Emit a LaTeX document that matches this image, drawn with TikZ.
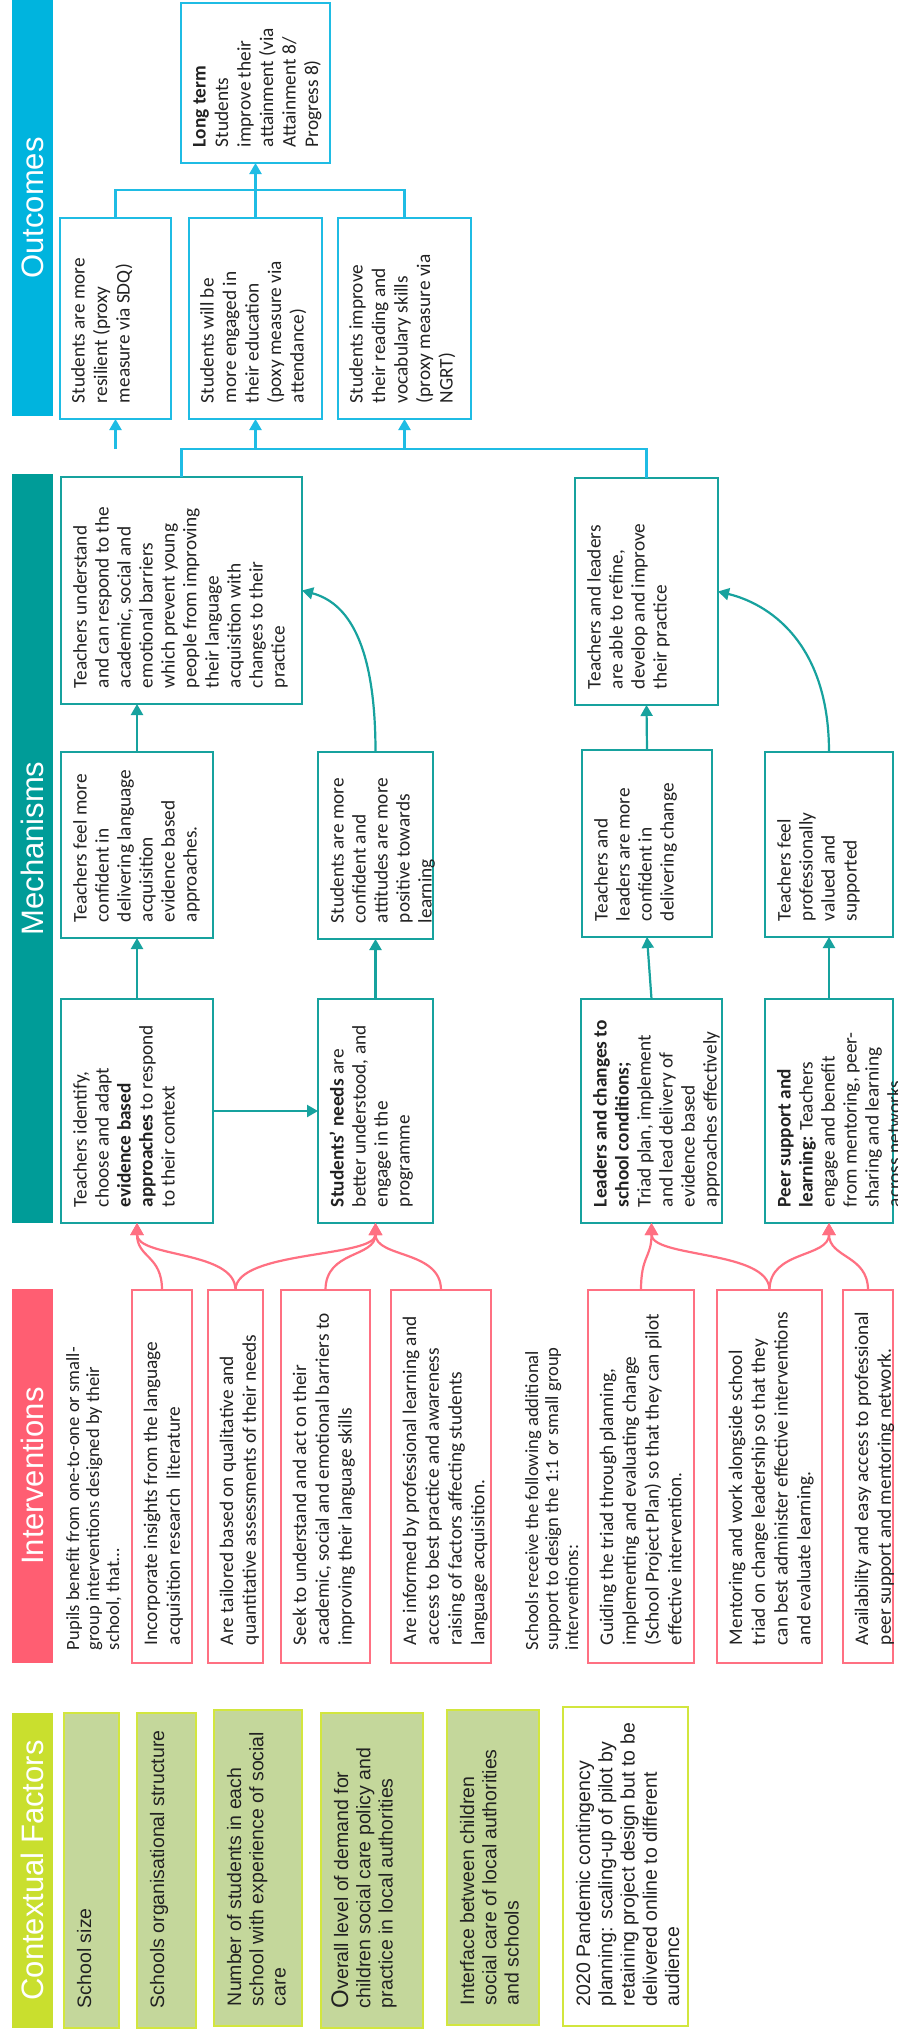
\documentclass[tikz,border=0pt]{standalone}
\usepackage{fontspec}
\setmainfont{Carlito}
\newfontfamily\arialf{Liberation Sans}
\usetikzlibrary{arrows.meta}
\definecolor{cyanC}{HTML}{00B4DE}
\definecolor{cyanB}{HTML}{1FBCE4}
\definecolor{tealC}{HTML}{009C98}
\definecolor{tealB}{HTML}{17A29E}
\definecolor{pinkC}{HTML}{FF5E72}
\definecolor{pinkB}{HTML}{FF7082}
\definecolor{limeC}{HTML}{C9DF2E}
\definecolor{limeB}{HTML}{D2E63E}
\definecolor{oliveF}{HTML}{C4D79B}
\definecolor{txt}{HTML}{222222}
\newlength\padL \newlength\padT
\newcommand\rbox[3]{\rotatebox{90}{\parbox[c][#1][t]{#2}{\raggedright\leftskip=\padL\relax\rule{0pt}{\padT}#3\par}}}
\newcommand\fOut{\fontsize{19.3pt}{22.5pt}\selectfont\color{txt}\padL=16pt\padT=24.5pt\relax}
\newcommand\fMech{\fontsize{19.3pt}{22pt}\selectfont\color{txt}\padL=16pt\padT=25.5pt\relax}
\newcommand\fInt{\fontsize{19.3pt}{22.8pt}\selectfont\color{txt}\padL=18pt\padT=25pt\relax}
\newcommand\fIntro{\fontsize{18.6pt}{20pt}\selectfont\color{txt}\padL=13pt\padT=21pt\relax}
\newcommand\fCtx{\arialf\fontsize{19.5pt}{22.3pt}\selectfont\color{txt}\padL=20pt\padT=27pt\relax}
\newcommand\fHdr{\arialf\fontsize{31pt}{31pt}\selectfont\color{white}}
\tikzset{
  every node/.style={inner sep=0pt, outer sep=0pt},
  obox/.style={draw=cyanB, line width=2.2pt, font=\fOut},
  mbox/.style={draw=tealB, line width=2.2pt, font=\fMech},
  ibox/.style={draw=pinkB, line width=2.2pt, font=\fInt},
  introtxt/.style={font=\fIntro},
  cbox/.style={draw=limeB, line width=2.2pt, fill=oliveF, font=\fCtx},
  cwhite/.style={draw=limeB, line width=2.2pt, fill=white, font=\fCtx},
  hdr/.style={font=\fHdr, minimum width=41pt},
  cyanline/.style={draw=cyanB, line width=2.2pt},
  cyanarrow/.style={cyanline, -{Triangle[width=12pt,length=11pt]}},
  tealarrow/.style={draw=tealB, line width=2.2pt, -{Triangle[width=12pt,length=11pt]}},
  pinkarrow/.style={draw=pinkB, line width=2.2pt, -{Triangle[width=13pt,length=12pt]}},
}
\begin{document}
\begin{tikzpicture}[x=1pt,y=-1pt]
\useasboundingbox[fill=white] (0,0) rectangle (897,2040);
% headers
\node[hdr,fill=cyanC,minimum height=416pt] (hO) at (32.5,208) {\rotatebox{90}{Outcomes}};
\node[hdr,fill=tealC,minimum height=749pt] (hM) at (32.5,848.5) {\rotatebox{90}{Mechanisms}};
\node[hdr,fill=pinkC,minimum height=374pt] (hI) at (32.5,1476) {\rotatebox{90}{Interventions}};
\node[hdr,fill=limeC,minimum height=315pt] (hC) at (32.5,1870.5) {\rotatebox{90}{Contextual Factors}};
% outcomes
\node[obox] (lt) at (255.5,83) {\rbox{149pt}{160pt}{\textbf{Long term}\\Students\\improve their\\attainment (via\\Attainment 8/\\Progress 8)}};
\node[obox] (o1) at (115.5,318.5) {\rbox{111pt}{201pt}{Students are more\\resilient (proxy\\measure via SDQ)}};
\node[obox] (o2) at (255.5,318.5) {\rbox{133pt}{201pt}{Students will be\\more engaged in\\their education\\(poxy measure via\\attendance)}};
\node[obox] (o3) at (404.5,318.5) {\rbox{133pt}{201pt}{Students improve\\their reading and\\vocabulary skills\\(proxy measure via\\NGRT)}};
% mechanisms
\node[mbox] (mU) at (181.5,590.5) {\rbox{241pt}{227pt}{Teachers understand\\and can respond to the\\academic, social and\\emotional barriers\\which prevent young\\people from improving\\their language\\acquisition with\\changes to their\\practice}};
\node[mbox] (mFeel) at (137,845) {\rbox{152pt}{186pt}{Teachers feel more\\confident in\\delivering language\\acquisition\\evidence based\\approaches.}};
\node[mbox] (mSconf) at (375.5,845.5) {\rbox{115pt}{187pt}{Students are more\\confident and\\attitudes are more\\positive towards\\learning}};
\node[mbox] (mIdent) at (137,1111) {\rbox{152pt}{224pt}{Teachers identify,\\choose and adapt\\\textbf{evidence based}\\\textbf{approaches} to respond\\to their context}};
\node[mbox] (mNeeds) at (375.5,1111) {\rbox{115pt}{224pt}{\textbf{Students’ needs} are\\better understood, and\\engage in the\\programme}};
\node[mbox] (mRefine) at (646.5,591.5) {\rbox{143pt}{227pt}{Teachers and leaders\\are able to refine,\\develop and improve\\their practice}};
\node[mbox] (mLconf) at (647,843.5) {\rbox{130pt}{187pt}{Teachers and\\leaders are more\\confident in\\delivering change}};
\node[mbox] (mValued) at (829,844.5) {\rbox{128pt}{185pt}{Teachers feel\\professionally\\valued and\\supported}};
\node[mbox] (mLead) at (651.5,1111) {\rbox{141pt}{224pt}{\textbf{Leaders and changes to}\\\textbf{school conditions;}\\Triad plan, implement\\and lead delivery of\\evidence based\\approaches effectively}};
\node[mbox] (mPeer) at (829,1111) {\rbox{128pt}{224pt}{\textbf{Peer support and}\\\textbf{learning:} Teachers\\engage and benefit\\from mentoring, peer-\\sharing and learning\\across networks}};
% interventions
\node[introtxt] (iIntro) at (93,1476.5) {\rbox{70pt}{373pt}{Pupils benefit from one-to-one or small-\\group interventions designed by their\\school, that…}};
\node[ibox] (iInc) at (162,1476.5) {\rbox{60pt}{373pt}{Incorporate insights from the language\\acquisition research\ \ literature}};
\node[ibox] (iTail) at (235.5,1476.5) {\rbox{55pt}{373pt}{Are tailored based on qualitative and\\quantitative assessments of their needs}};
\node[ibox] (iSeek) at (325.5,1476.5) {\rbox{89pt}{373pt}{Seek to understand and act on their\\academic, social and emotional barriers to\\improving their language skills}};
\node[ibox] (iInf) at (441,1476.5) {\rbox{100pt}{373pt}{Are informed by professional learning and\\access to best practice and awareness\\raising of factors affecting students\\language acquisition.}};
\node[introtxt] (iIntro2) at (552,1476.5) {\rbox{70pt}{373pt}{Schools receive the following additional\\support to design the 1:1 or small group\\interventions:}};
\node[ibox] (iGuide) at (641,1476.5) {\rbox{106pt}{373pt}{Guiding the triad through planning,\\implementing and evaluating change\\(School Project Plan) so that they can pilot\\effective intervention.}};
\node[ibox] (iMent) at (769.5,1476.5) {\rbox{105pt}{373pt}{Mentoring and work alongside school\\triad on change leadership so that they\\can best administer effective interventions\\and evaluate learning.}};
\node[ibox] (iAvail) at (868,1476.5) {\rbox{50pt}{373pt}{Availability and easy access to professional\\peer support and mentoring network.}};
% contextual factors
\node[cbox] (c1) at (91.5,1870.5) {\rbox{55pt}{315pt}{School size}};
\node[cbox] (c2) at (166.5,1870.5) {\rbox{59pt}{315pt}{Schools organisational structure}};
\node[cbox] (c3) at (258,1868) {\rbox{88pt}{316pt}{Number of students in each\\school with experience of social\\care}};
\node[cbox] (c4) at (372,1870.5) {\rbox{102pt}{315pt}{{\fontsize{24pt}{22pt}\selectfont O}verall level of demand for\\children social care policy and\\practice in local authorities}};
\node[cbox] (c5) at (493,1867.5) {\rbox{92pt}{315pt}{Interface between children\\social care of local authorities\\and schools}};
\node[cwhite] (c6) at (625.5,1866.5) {\rbox{125pt}{319pt}{2020 Pandemic contingency\\planning: scaling-up of pilot by\\retaining project design but to be\\delivered online to different\\audience}};
% outcome connectors
\coordinate (tbus) at (0,190);
\coordinate (obus) at (0,449);
\draw[cyanline] (o1.north) -- (o1.north |- tbus) -- (o3.north |- tbus) -- (o3.north);
\draw[cyanarrow] (o2.north) -- (lt.south);
\draw[cyanline] (mU.north) -- (mU.north |- obus) -- (mRefine.north |- obus) -- (mRefine.north);
\draw[cyanarrow] (o1.south |- obus) -- (o1.south);
\draw[cyanarrow] (o2.south |- obus) -- (o2.south);
\draw[cyanarrow] (o3.south |- obus) -- (o3.south);
% mechanism connectors
\draw[tealarrow] (mFeel.north) -- (mFeel.north |- mU.south);
\draw[tealarrow] (mSconf.north) .. controls +(0,-110) and +(45,12) .. (mU.east);
\draw[tealarrow] (mIdent.north) -- (mFeel.south);
\draw[tealarrow] (mIdent.east) -- (mNeeds.west);
\draw[tealarrow] (mNeeds.north) -- (mSconf.south);
\draw[tealarrow] (mLconf.north) -- (mRefine.south);
\draw[tealarrow] (mValued.north) .. controls +(0,-110) and +(50,12) .. (mRefine.east);
\draw[tealarrow] (mLead.north) -- (mLconf.south);
\draw[tealarrow] (mPeer.north) -- (mValued.south);
% intervention connectors
\draw[pinkarrow] (iInc.north) .. controls +(0,-35) and +(0,35) .. (mIdent.south);
\draw[pinkarrow] (iTail.north) .. controls +(0,-40) and +(0,35) .. (mIdent.south);
\draw[pinkarrow] (iTail.north) .. controls +(0,-40) and +(0,35) .. (mNeeds.south);
\draw[pinkarrow] (iSeek.north) .. controls +(0,-40) and +(0,35) .. (mNeeds.south);
\draw[pinkarrow] (iInf.north) .. controls +(0,-40) and +(0,35) .. (mNeeds.south);
\draw[pinkarrow] (iGuide.north) .. controls +(0,-35) and +(0,35) .. (mLead.south);
\draw[pinkarrow] (iMent.north) .. controls +(0,-40) and +(0,35) .. (mLead.south);
\draw[pinkarrow] (iMent.north) .. controls +(0,-40) and +(0,35) .. (mPeer.south);
\draw[pinkarrow] (iAvail.north) .. controls +(0,-35) and +(0,35) .. (mPeer.south);
\end{tikzpicture}
\end{document}
